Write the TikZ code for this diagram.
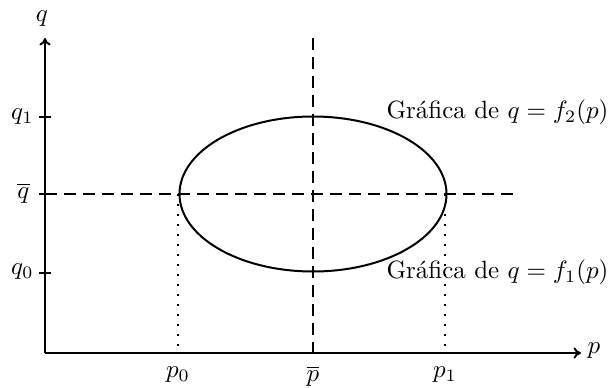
\documentclass[tikz,border=0pt]{standalone}
\usetikzlibrary{arrows.meta}
\begin{document}
\begin{tikzpicture}[x=0.4pt,y=-0.4pt,
  axis/.style={line width=0.8pt,-{To[length=3pt,width=4.5pt]}},
  guide/.style={line width=0.8pt,dash pattern=on 4.6pt off 3pt},
  drop/.style={line width=0.7pt,dash pattern=on 0.7pt off 3.3pt},
  curve/.style={line width=0.8pt},
  tickmark/.style={line width=0.8pt},
  lbl/.style={inner sep=0pt,font=\normalsize}]
\useasboundingbox (0,0) rectangle (612,387);
% points
\coordinate (O) at (45,353);
\coordinate (Ytop) at (45,38);
\coordinate (Xend) at (581,353);
\coordinate (C) at (313,194);
\coordinate (Vtop) at (313,38);
\coordinate (Vbot) at (313,353);
\coordinate (Hleft) at (45,194);
\coordinate (Hright) at (515,194);
\coordinate (L) at (178,194);
\coordinate (R) at (445,194);
\coordinate (Lb) at (178,353);
\coordinate (Rb) at (445,353);
\coordinate (T1a) at (39,117);
\coordinate (T1b) at (51,117);
\coordinate (Tma) at (39,194);
\coordinate (Tmb) at (51,194);
\coordinate (T0a) at (39,273);
\coordinate (T0b) at (51,273);
% dashed guides
\draw[guide] (Hleft) -- (Hright);
\draw[guide] (Vtop) -- (Vbot);
% dotted drops
\draw[drop] (L) -- (Lb);
\draw[drop] (R) -- (Rb);
% ellipse
\draw[curve] (C) ellipse [x radius=133.5, y radius=77.5];
% axes
\draw[axis] (O) -- (Ytop);
\draw[axis] (O) -- (Xend);
% ticks
\draw[tickmark] (T1a) -- (T1b);
\draw[tickmark] (Tma) -- (Tmb);
\draw[tickmark] (T0a) -- (T0b);
% labels
\node[lbl] (lq) at (42,19) {$q$};
\node[lbl] (lp) at (594,351) {$p$};
\node[lbl,anchor=east] (lq1) at (34,117) {$q_1$};
\node[lbl,anchor=east] (lqb) at (30,193) {$\overline{q}$};
\node[lbl,anchor=east] (lq0) at (34,272) {$q_0$};
\node[lbl] (lp0) at (178,375) {$p_0$};
\node[lbl] (lpb) at (313,376) {$\overline{p}$};
\node[lbl] (lp1) at (445,375) {$p_1$};
\node[lbl,anchor=west] (g2) at (386,112) {Gráfica de $q=f_2(p)$};
\node[lbl,anchor=west] (g1) at (386,272) {Gráfica de $q=f_1(p)$};
\end{tikzpicture}
\end{document}
